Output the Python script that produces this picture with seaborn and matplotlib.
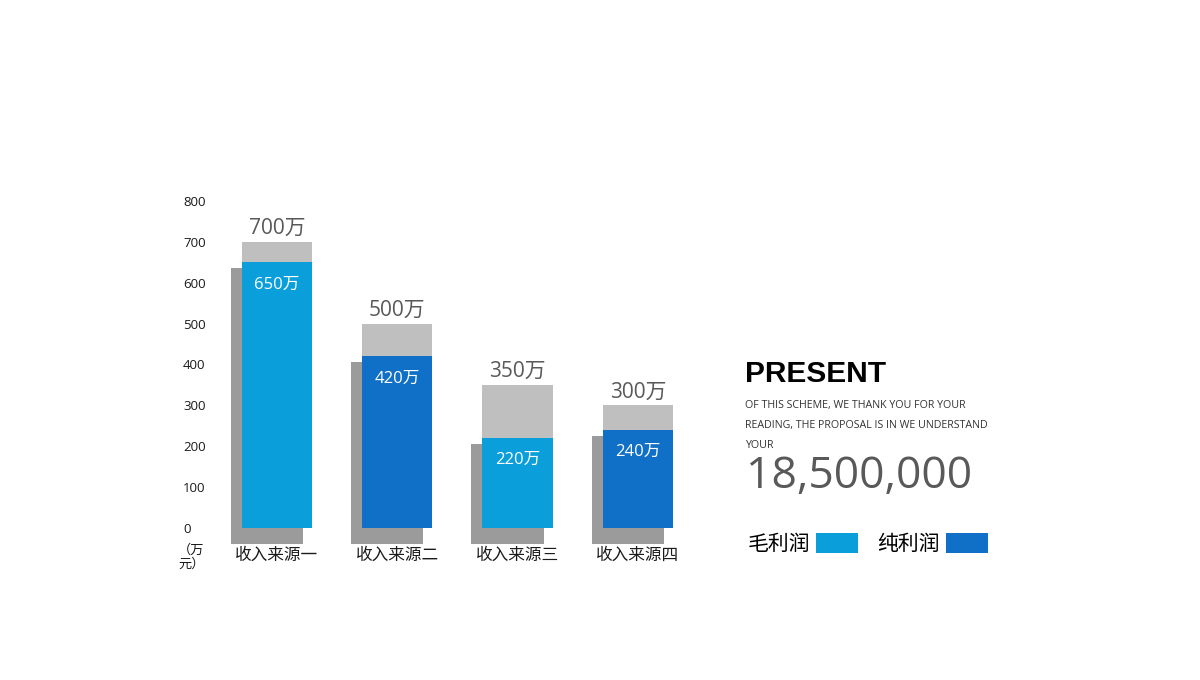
import numpy as np
import pandas as pd
import matplotlib
matplotlib.use("Agg")
import matplotlib.pyplot as plt
from matplotlib.patches import Rectangle
import seaborn as sns

# ---- data ----
categories = ["收入来源一", "收入来源二", "收入来源三", "收入来源四"]
gross = [700, 500, 350, 300]          # 毛利润 (万)
net = [650, 420, 220, 240]            # 纯利润 (万)
yticks = [0, 100, 200, 300, 400, 500, 600, 700, 800]
unit_label = "（万\n元）"
title = "PRESENT"
body = "OF THIS SCHEME, WE THANK YOU FOR YOUR\nREADING, THE PROPOSAL IS IN WE UNDERSTAND\nYOUR"
big_number = "18,500,000"
legend_labels = ["毛利润", "纯利润"]

# ---- style ----
LIGHT = "#0A9FDA"
DARK = "#1070C7"
GRAY_TOP = "#BFBFBF"
SHADOW = "#9B9B9B"
LABEL_GRAY = "#595959"
CJK = ["Noto Sans CJK SC", "DejaVu Sans"]
NUM = ["Open Sans", "Noto Sans CJK SC", "DejaVu Sans"]

sns.set_theme(style="white")
plt.rcParams["font.family"] = CJK

W, H = 1200, 680
fig = plt.figure(figsize=(W / 100, H / 100), dpi=100)

# axes placement (pixel mapping)
px_left, px_right = 210.8, 698.0
px_top, px_bottom = 192.8, 546.4
ax = fig.add_axes([px_left / W, 1 - px_bottom / H,
                   (px_right - px_left) / W, (px_bottom - px_top) / H])

df = pd.DataFrame({"cat": categories, "gross": gross, "net": net})
bar_w = 0.583
xs = np.arange(len(categories))

# shadows
ax.bar(xs - 0.083, np.array(net) + 26, bottom=-40, width=0.6,
       color=SHADOW, linewidth=0, zorder=1)

sns.barplot(data=df, x="cat", y="gross", color=GRAY_TOP, width=bar_w,
            saturation=1, ax=ax, zorder=2)
sns.barplot(data=df, x="cat", y="net", hue="cat",
            palette=[LIGHT, DARK, LIGHT, DARK], width=bar_w,
            saturation=1, legend=False, ax=ax, zorder=3)
for p in ax.patches:
    p.set_linewidth(0)

ax.set_xlim(-0.55, 3.5)
ax.set_ylim(-45, 820)
for s in ax.spines.values():
    s.set_visible(False)
ax.set_xlabel("")
ax.set_ylabel("")
ax.grid(False)

ax.set_yticks(yticks)
ax.set_yticklabels([str(t) for t in yticks], fontfamily=NUM, fontsize=9.5,
                   color="#1a1a1a")
for lab in ax.get_yticklabels():
    lab.set_horizontalalignment("left")
ax.tick_params(axis="y", length=0, pad=20)

ax.set_xticks(xs)
ax.set_xticklabels(categories, fontsize=12, color="#1a1a1a")
ax.tick_params(axis="x", length=0, pad=0)

# value labels
for i, (g, n) in enumerate(zip(gross, net)):
    ax.annotate(f"{g}万", (i, g), xytext=(0, 2), textcoords="offset points",
                ha="center", va="bottom", fontsize=15, color=LABEL_GRAY,
                fontfamily=NUM)
    ax.annotate(f"{n}万", (i, n), xytext=(0, -16), textcoords="offset points",
                ha="center", va="center", fontsize=12, color="white",
                fontfamily=NUM)

# unit label
fig.text(178 / W, 1 - 544 / H, unit_label, ha="left", va="top",
         fontsize=9.5, color="#1a1a1a", linespacing=1.05)

# right-hand text block
fig.text(745 / W, 1 - 382 / H, title, ha="left", va="baseline",
         fontsize=21.5, fontweight="bold", color="black",
         fontfamily=["Liberation Sans", "DejaVu Sans"])
fig.text(745 / W, 1 - 400 / H, body, ha="left", va="top",
         fontsize=7.7, color="#333333", linespacing=2.1,
         fontfamily=["Open Sans", "DejaVu Sans"])
fig.text(746 / W, 1 - 488 / H, big_number, ha="left", va="baseline",
         fontsize=32, color=LABEL_GRAY, fontfamily=NUM)

# legend
fig.text(748 / W, 1 - 544 / H, legend_labels[0], ha="left", va="center",
         fontsize=15, color="black")
fig.patches.append(Rectangle((816 / W, 1 - 553 / H), 42 / W, 20 / H,
                             transform=fig.transFigure, color=LIGHT,
                             linewidth=0))
fig.text(877 / W, 1 - 544 / H, legend_labels[1], ha="left", va="center",
         fontsize=15, color="black")
fig.patches.append(Rectangle((946 / W, 1 - 553 / H), 42 / W, 20 / H,
                             transform=fig.transFigure, color=DARK,
                             linewidth=0))

fig.savefig("out.png", dpi=100, facecolor="white")
